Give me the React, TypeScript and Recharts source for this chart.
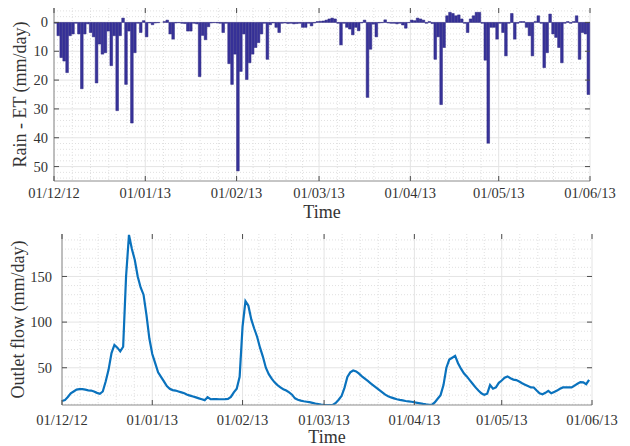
import { Bar, BarChart, CartesianGrid, Label, Line, LineChart, XAxis, YAxis } from 'recharts'

// days since 01/12/12, month boundaries
const monthTicks = [0, 31, 62, 90, 121, 151, 182]
const monthLabels = ['01/12/12', '01/01/13', '01/02/13', '01/03/13', '01/04/13', '01/05/13', '01/06/13']

const rainTicks = [0, 10, 20, 30, 40, 50]
const flowTicks = [50, 100, 150]

// daily Rain - ET (mm/day), 01/12/12 .. 31/05/13
const rainEt = [
  0.3, 4.6, 12.2, 13.4, 17.4, 4.6, 4, 0.3, 4, 23,
  4, 0.5, 3.5, 5, 21, 7.5, 11, 10.5, 3, 15,
  4.6, 30.6, 4.6, -1.5, 21.5, 3, 34.9, 10.5, 0.3, 3.5,
  -0.6, 5, 0.2, 0.8, 0.2, 0.1, 0, -0.3, -0.8, 4,
  5.8, 0.2, 0.1, 0.3, 0.4, 3, 3, 0.3, 0.5, 18.8,
  4.5, 6, 1.5, 0.2, 0.1, 0.2, 0.3, 3.5, 0.3, 14.3,
  21.5, 11, 51.5, 17, 4, 19.8, 14, 11, 8.7, 7,
  4, 0.3, 12.8, 0.8, 0.2, 1.7, 3.5, 0.3, 0.2, 0.4,
  0.3, 0.5, 0.4, 0.3, 1.7, 1.7, 0.3, 1.2, 0.2, -0.3,
  -0.4, -0.5, -0.8, -1.2, -1.5, -1.2, 0.3, 7.8, 0.3, 1.7,
  2.3, 4.3, 1.7, 2.9, 0.2, -0.8, 26, 9.3, 0.6, 5,
  0.2, 0.1, -0.9, 0.2, 0.3, 0.3, 0.5, 0.3, 0.9, 2,
  0.1, -0.8, -0.6, -1.5, -1.2, -0.8, 0.3, -0.3, 0.4, 12.8,
  5, 28.5, 8.7, -2.3, -3.5, -3.1, -2.3, -2.6, -1.2, 0.3,
  3.5, -1.2, -2.3, -3.5, -3.5, 0.3, 13.1, 41.9, 1.7, 1.7,
  5.8, 0.3, 3.5, 11.6, 0.3, -3.1, 5.8, 0.3, -0.3, -0.3,
  1.7, 4.6, 11.6, -0.3, -2.3, 0.3, 15.7, 10.5, -2.9, 4,
  5.2, 8.7, 14, 0.3, -0.3, 0.3, -0.3, -2.3, 12.8, 3.5,
  4, 25,
]

// daily outlet flow (mm/day)
const outletFlow = [
  13.5, 14.5, 18, 22, 24, 26, 26.6, 26.5, 26, 25.2,
  25, 24, 22.5, 21.4, 24, 35, 48, 66, 75, 72,
  68, 73, 150, 195.5, 180, 168, 150, 138, 130, 108,
  82, 65, 55, 45, 40, 35, 30, 27, 25.5, 25,
  24, 23, 22, 20.5, 19.5, 18.5, 17.5, 16.5, 15.5, 14.5,
  17.8, 15.5, 15.7, 15.7, 15.5, 15.5, 15.6, 15.8, 18, 23,
  27, 40, 95, 123, 118, 103, 93, 84, 72, 62,
  50, 43, 38, 34, 31, 28.5, 26.5, 25, 23, 20.5,
  16.5, 15, 14, 13.3, 12.8, 12.3, 11.6, 10.8, 10.2, 9.6,
  9.3, 9.2, 9.2, 9.4, 11.5, 15, 19, 28, 40, 45,
  47, 46, 43.5, 40.5, 38, 35.5, 33, 30.5, 28, 25.5,
  23, 20.5, 18.8, 17.5, 16.5, 15.5, 14.8, 14.2, 13.6, 13.2,
  12.8, 12.2, 11.6, 11, 10.4, 9.9, 9.5, 9.3, 12, 16,
  20, 31, 50, 59, 61, 63, 55, 49, 44, 40.5,
  36.5, 32.5, 28.5, 25, 22, 20.3, 21.5, 31, 27, 28.5,
  33.5, 36, 39, 40.5, 38.5, 37, 36.5, 35, 33, 31.5,
  30, 28.5, 28.4, 25, 22, 21, 22.5, 24.7, 22, 23.5,
  25, 27, 28.4, 28.4, 28.5, 28.4, 30.5, 32.5, 34.3, 34,
  32, 36.8,
]

const rainData = rainEt.map((v, i) => ({ day: i + 0.5, value: v }))
const flowData = outletFlow.map((v, i) => ({ day: i, flow: v }))

const W = 630
const H = 223
const FONT = '"Liberation Serif", "Times New Roman", serif'
const TXT = '#333333'
const TICK = '#4d4d4d'
const BOX = '#8c8c8c'

// plot boxes in chart coordinates
const topBox = { left: 54, right: 590, top: 8, bottom: 181 }
const botBox = { left: 62, right: 592, top: 11, bottom: 182 }

// minor grid: 5 subdivisions per month
const minorX: number[] = []
for (let m = 0; m < monthTicks.length - 1; m++) {
  const a = monthTicks[m]
  const step = (monthTicks[m + 1] - a) / 5
  for (let k = 1; k < 5; k++) minorX.push(a + k * step)
}
const minorRain: number[] = []
for (let v = -4; v <= 54; v += 2) if (v % 10 !== 0) minorRain.push(v)
const minorFlow: number[] = []
for (let v = 10; v <= 190; v += 10) if (v % 50 !== 0) minorFlow.push(v)

function dateTick(box: typeof topBox, dy: number) {
  return (props: any) => {
    const { x, payload } = props
    const i = monthTicks.indexOf(payload.value)
    return (
      <g>
        <line x1={x} x2={x} y1={box.bottom} y2={box.bottom - 5} stroke={TICK} />
        <line x1={x} x2={x} y1={box.top} y2={box.top + 5} stroke={TICK} />
        <text x={x} y={box.bottom + dy} textAnchor="middle" fontSize={14.5} fill={TXT} fontFamily={FONT}>
          {monthLabels[i]}
        </text>
      </g>
    )
  }
}

function valueTick(box: typeof topBox, gap: number) {
  return (props: any) => {
    const { y, payload } = props
    return (
      <g>
        <line x1={box.left} x2={box.left + 5} y1={y} y2={y} stroke={TICK} />
        <line x1={box.right} x2={box.right - 5} y1={y} y2={y} stroke={TICK} />
        <text x={box.left - gap} y={y} dy="0.35em" textAnchor="end" fontSize={14.5} fill={TXT} fontFamily={FONT}>
          {payload.value}
        </text>
      </g>
    )
  }
}

function RainChart() {
  return (
    <BarChart
      width={W}
      height={H}
      data={rainData}
      margin={{ top: topBox.top, right: W - topBox.right, bottom: 0, left: 0 }}
      barCategoryGap={0}
    >
      <CartesianGrid horizontalValues={minorRain} verticalValues={minorX} stroke="#e0e0e0" strokeDasharray="1 2" />
      <CartesianGrid horizontalValues={rainTicks} verticalValues={monthTicks} stroke="#e4e4e4" />
      <XAxis
        dataKey="day"
        type="number"
        domain={[0, 182]}
        ticks={monthTicks}
        interval={0}
        height={H - topBox.bottom}
        tickSize={0}
        tickLine={false}
        axisLine={{ stroke: BOX }}
        tick={dateTick(topBox, 17)}
      >
        <Label value="Time" position="insideBottom" offset={5} fontSize={18} fill={TXT} fontFamily={FONT} />
      </XAxis>
      <XAxis xAxisId="top" orientation="top" dataKey="day" type="number" domain={[0, 182]} height={0} tick={false} axisLine={{ stroke: BOX }} />
      <YAxis
        type="number"
        domain={[-5, 55]}
        reversed
        ticks={rainTicks}
        interval={0}
        width={topBox.left}
        tickSize={0}
        tickLine={false}
        axisLine={{ stroke: BOX }}
        tick={valueTick(topBox, 6)}
      >
        <Label
          value="Rain - ET (mm/day)"
          angle={-90}
          position="insideLeft"
          offset={20}
          fontSize={18}
          fill={TXT}
          fontFamily={FONT}
          style={{ textAnchor: 'middle' }}
        />
      </YAxis>
      <YAxis yAxisId="right" orientation="right" domain={[-5, 55]} width={0} tick={false} axisLine={{ stroke: BOX }} />
      <Bar dataKey="value" fill="#38339a" stroke="#28237e" strokeWidth={0.5} barSize={3} isAnimationActive={false} />
    </BarChart>
  )
}

function FlowChart() {
  return (
    <LineChart
      width={W}
      height={H}
      data={flowData}
      margin={{ top: botBox.top, right: W - botBox.right, bottom: 0, left: 0 }}
    >
      <CartesianGrid horizontalValues={minorFlow} verticalValues={minorX} stroke="#e0e0e0" strokeDasharray="1 2" />
      <CartesianGrid horizontalValues={flowTicks} verticalValues={monthTicks} stroke="#e4e4e4" />
      <XAxis
        dataKey="day"
        type="number"
        domain={[0, 182]}
        ticks={monthTicks}
        interval={0}
        height={H - botBox.bottom}
        tickSize={0}
        tickLine={false}
        axisLine={{ stroke: BOX }}
        tick={dateTick(botBox, 20)}
      >
        <Label value="Time" position="insideBottom" offset={3} fontSize={18} fill={TXT} fontFamily={FONT} />
      </XAxis>
      <XAxis xAxisId="top" orientation="top" dataKey="day" type="number" domain={[0, 182]} height={0} tick={false} axisLine={{ stroke: BOX }} />
      <YAxis
        type="number"
        domain={[9.2, 196.5]}
        allowDataOverflow
        ticks={flowTicks}
        interval={0}
        width={botBox.left}
        tickSize={0}
        tickLine={false}
        axisLine={{ stroke: BOX }}
        tick={valueTick(botBox, 10)}
      >
        <Label
          value="Outlet flow (mm/day)"
          angle={-90}
          position="insideLeft"
          offset={18}
          fontSize={18}
          fill={TXT}
          fontFamily={FONT}
          style={{ textAnchor: 'middle' }}
        />
      </YAxis>
      <YAxis yAxisId="right" orientation="right" domain={[9.2, 196.5]} width={0} tick={false} axisLine={{ stroke: BOX }} />
      <Line type="linear" dataKey="flow" stroke="#0a72bd" strokeWidth={2.2} dot={false} isAnimationActive={false} />
    </LineChart>
  )
}

export default function App() {
  return (
    <div style={{ position: 'absolute', left: 0, top: 0, width: W, height: 446, background: '#fff', fontFamily: FONT }}>
      <div style={{ position: 'absolute', left: 0, top: 0 }}>
        <RainChart />
      </div>
      <div style={{ position: 'absolute', left: 0, top: H }}>
        <FlowChart />
      </div>
    </div>
  )
}
